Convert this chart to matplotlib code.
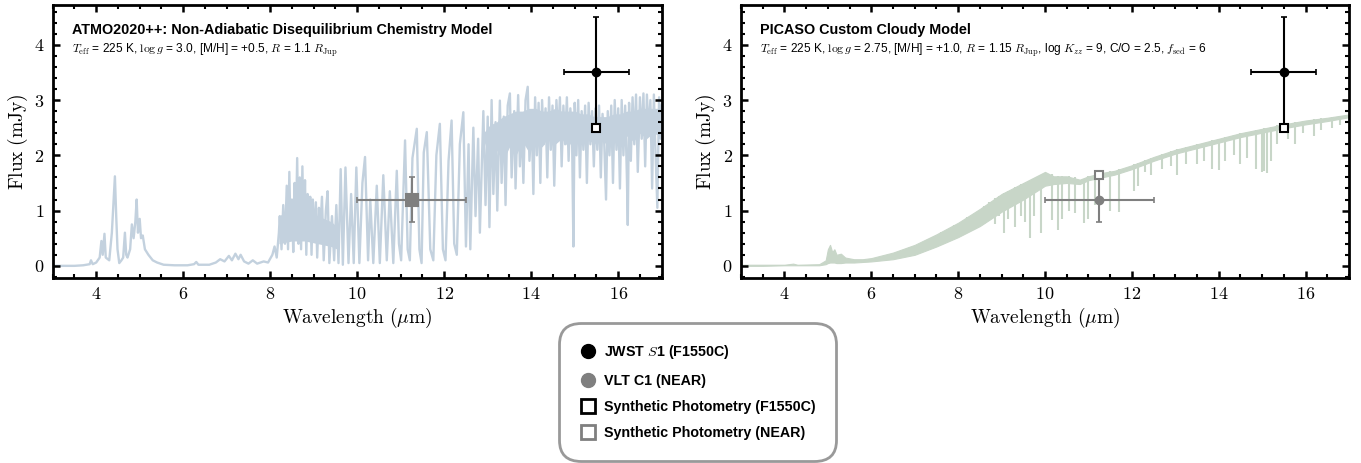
import numpy as np
import matplotlib
matplotlib.use("Agg")
import matplotlib.pyplot as plt
from matplotlib.lines import Line2D
from matplotlib.ticker import MultipleLocator, FuncFormatter

plt.rcParams['mathtext.fontset'] = 'cm'
plt.rcParams['font.family'] = ['Liberation Sans', 'DejaVu Sans']

# ---- ATMO2020++ spectrum (wavelength in micron, flux in mJy), peaks/troughs ----
atmo_wl = [
    3.0, 3.5, 3.7, 3.85, 3.88, 3.92, 4.0, 4.08, 4.12, 4.15, 4.19, 4.22, 4.3, 4.36, 4.4, 4.43,
    4.46, 4.49, 4.53, 4.58, 4.62, 4.66, 4.69, 4.72, 4.78, 4.82, 4.86, 4.9, 4.93, 4.96, 5.0,
    5.03, 5.07, 5.12, 5.2, 5.3, 5.4, 5.55, 5.8, 6.1, 6.25, 6.3, 6.35, 6.6, 6.75, 6.85, 6.95,
    7.05, 7.12, 7.2, 7.27, 7.32, 7.4, 7.5, 7.6, 7.7, 7.85, 7.95, 8.05, 8.1, 8.15, 8.2,
    8.22, 8.26, 8.3, 8.34, 8.38, 8.41, 8.44, 8.47, 8.5, 8.53, 8.56, 8.59, 8.62, 8.65, 8.68,
    8.71, 8.74, 8.77, 8.8, 8.83, 8.86, 8.89, 8.92, 8.95, 8.98, 9.01, 9.05, 9.08, 9.12, 9.15,
    9.19, 9.23, 9.28, 9.32, 9.36, 9.42, 9.47, 9.52, 9.57, 9.62, 9.67, 9.73, 9.8, 9.86, 9.92,
    9.98, 10.05, 10.12, 10.18, 10.25, 10.3, 10.37, 10.45, 10.52, 10.6, 10.68, 10.75, 10.83,
    10.91, 10.96, 11.01, 11.1, 11.16, 11.21, 11.27, 11.37, 11.43, 11.48, 11.53, 11.6, 11.68,
    11.75, 11.82, 11.9, 11.97, 12.03, 12.1, 12.17, 12.23, 12.29, 12.36, 12.44, 12.5, 12.56,
    12.6, 12.67, 12.72, 12.78,
    12.82, 12.9, 12.95, 13.0, 13.04, 13.09, 13.13, 13.18, 13.22, 13.28, 13.32, 13.37, 13.41,
    13.46, 13.51, 13.55, 13.61, 13.64, 13.7, 13.74, 13.78, 13.82, 13.87, 13.92, 13.96, 14.01,
    14.05, 14.09, 14.13, 14.17, 14.21, 14.25, 14.29, 14.33, 14.37, 14.41, 14.45, 14.49, 14.53,
    14.58, 14.62, 14.66, 14.7, 14.74, 14.78, 14.82, 14.86, 14.9, 14.94, 14.97, 15.0, 15.04,
    15.08, 15.12, 15.16, 15.2, 15.24, 15.28, 15.32, 15.36, 15.4, 15.44, 15.48, 15.52, 15.56,
    15.6, 15.64, 15.68, 15.72, 15.76, 15.8, 15.84, 15.88, 15.92, 15.96, 16.0, 16.04, 16.08,
    16.12, 16.16, 16.2, 16.22, 16.25, 16.29, 16.33, 16.37, 16.41, 16.45, 16.5, 16.54, 16.58,
    16.62, 16.66, 16.7, 16.74, 16.78, 16.82, 16.86, 16.9, 16.94, 16.98, 17.0,
]
atmo_flux = [
    0.0, 0.0, 0.01, 0.03, 0.1, 0.03, 0.06, 0.15, 0.45, 0.2, 0.58, 0.15, 0.1, 0.6, 1.2, 1.62,
    0.9, 0.3, 0.05, 0.1, 0.15, 0.6, 0.2, 0.15, 0.3, 0.75, 0.5, 0.8, 1.2, 0.6, 0.85,
    0.5, 0.55, 0.3, 0.2, 0.1, 0.06, 0.02, 0.01, 0.01, 0.03, 0.07, 0.02, 0.02, 0.06, 0.12, 0.08,
    0.18, 0.1, 0.22, 0.12, 0.2, 0.08, 0.04, 0.1, 0.04, 0.08, 0.06, 0.2, 0.35, 0.15, 0.6,
    0.9, 0.3, 1.1, 0.4, 1.45, 0.3, 1.7, 0.5, 1.2, 0.25, 1.5, 0.6, 1.95, 0.4, 1.6,
    0.3, 1.8, 0.5, 1.55, 0.2, 1.3, 0.6, 1.25, 0.2, 1.2, 0.5, 1.15, 0.15, 1.05, 0.6,
    1.25, 0.1, 1.0, 1.35, 0.05, 0.9, 0.1, 1.1, 0.05, 1.75, 0.02, 1.78, 0.05, 1.3, 0.05,
    1.78, 0.05, 1.5, 1.97, 0.1, 1.2, 0.05, 1.45, 0.05, 1.64, 0.1, 1.35, 0.05,
    1.72, 0.4, 0.1, 2.27, 0.3, 0.1, 1.95, 2.48, 0.3, 0.05, 2.05, 2.42, 0.3,
    0.1, 2.0, 2.57, 0.3, 0.1, 1.9, 2.63, 0.4, 0.2, 2.2, 2.78, 0.35, 2.2,
    0.3, 2.5, 0.9, 2.3,
    0.6, 2.8, 1.1, 2.7, 0.7, 3.0, 1.3, 2.6, 1.0, 2.99, 1.5, 2.7, 1.1,
    2.9, 3.12, 1.6, 2.8, 1.4, 3.09, 1.8, 2.6, 1.5, 3.0, 3.24, 1.9, 2.7,
    1.3, 3.05, 2.0, 2.95, 1.5, 3.0, 2.2, 2.85, 1.6, 3.05, 2.1, 2.9, 1.45,
    3.0, 2.3, 3.05, 1.8, 2.9, 2.2, 3.05, 1.9, 2.85, 2.3, 0.35, 2.95, 2.0,
    3.0, 1.6, 2.8, 2.1, 2.9, 1.5, 2.95, 2.2, 2.8, 1.8, 2.85, 2.1, 2.9,
    1.6, 2.75, 2.2, 1.2, 2.8, 2.0, 2.9, 1.5, 3.0, 2.1, 2.85, 1.4, 3.0,
    2.0, 2.9, 1.6, 0.74, 2.95, 1.9, 3.05, 2.2, 3.1, 1.7, 3.05, 2.3, 3.12,
    1.8, 3.1, 2.4, 3.0, 1.4, 3.1, 2.0, 1.05, 3.05, 2.3, 2.9,
]

# densely blended parts of the ATMO forest (lower / upper edge of the solid band)
atmo_band1_wl = [8.2, 8.5, 8.8, 9.1, 9.4, 9.55]
atmo_band1_low = [0.4, 0.45, 0.45, 0.4, 0.35, 0.3]
atmo_band1_high = [0.9, 1.05, 1.0, 0.9, 0.8, 0.7]
atmo_band2_wl = [12.9, 13.05, 13.2, 13.35, 13.5, 13.65, 13.8, 13.95, 14.1, 14.25, 14.4, 14.55,
                 14.7, 14.85, 15.0, 15.15, 15.3, 15.45, 15.6, 15.75, 15.9, 16.05, 16.2, 16.35,
                 16.5, 16.65, 16.8, 17.0]
atmo_band2_low = [2.3, 1.9, 2.1, 1.9, 2.15, 2.0, 2.25, 2.05, 2.3, 2.15, 2.35, 2.2, 2.3, 2.15,
                  2.35, 2.25, 2.3, 2.2, 2.35, 2.15, 2.3, 2.2, 2.35, 2.25, 2.4, 2.3, 2.4, 2.35]
atmo_band2_high = [2.4, 2.55, 2.6, 2.7, 2.75, 2.8, 2.8, 2.85, 2.85, 2.8, 2.8, 2.85, 2.8, 2.8,
                   2.8, 2.75, 2.75, 2.7, 2.7, 2.7, 2.75, 2.75, 2.8, 2.8, 2.85, 2.85, 2.85, 2.85]

# ---- PICASO cloudy spectrum: upper and lower edge of the dense band ----
picaso_wl = [3.0, 3.5, 4.0, 4.2, 4.3, 4.8, 4.95, 5.0, 5.05, 5.1, 5.15, 5.2, 5.3, 5.4, 5.6,
             5.8, 6.0, 6.5, 7.0, 7.5, 8.0, 8.5, 9.0, 9.5, 9.8, 10.0, 10.2, 10.5, 10.8, 11.0,
             11.3, 11.6, 12.0, 12.5, 13.0, 13.5, 14.0, 14.5, 15.0, 15.5, 16.0, 16.5, 17.0]
picaso_top = [0.02, 0.02, 0.02, 0.04, 0.02, 0.03, 0.1, 0.3, 0.38, 0.25, 0.3, 0.2, 0.22, 0.15, 0.12,
              0.12, 0.14, 0.24, 0.38, 0.57, 0.78, 1.03, 1.3, 1.5, 1.62, 1.7, 1.62, 1.62, 1.56, 1.62,
              1.68, 1.72, 1.82, 1.97, 2.1, 2.2, 2.3, 2.4, 2.48, 2.56, 2.63, 2.68, 2.74]
picaso_low = [0.0, 0.0, 0.01, 0.01, 0.01, 0.01, 0.03, 0.05, 0.06, 0.06, 0.06, 0.05, 0.05, 0.06, 0.06,
              0.07, 0.08, 0.12, 0.2, 0.35, 0.52, 0.72, 0.98, 1.2, 1.35, 1.45, 1.48, 1.5, 1.48, 1.55,
              1.6, 1.65, 1.75, 1.9, 2.03, 2.13, 2.23, 2.33, 2.41, 2.49, 2.56, 2.62, 2.69]

# individual absorption lines: wavelength, line floor, continuum on top
line_wl = [6.9, 7.3, 7.6, 7.9, 8.2, 8.45, 8.6, 8.7, 8.85, 8.95, 9.05, 9.15, 9.3, 9.45, 9.55,
           9.65, 9.75, 9.9, 10.15, 10.3, 10.4, 10.55, 10.7, 10.9, 11.0, 11.15, 11.5, 11.7,
           12.05, 12.15, 12.3, 12.45, 12.7, 12.9, 13.05, 13.25, 13.5, 13.65, 13.85, 14.0,
           14.15, 14.35, 14.5, 14.65, 14.85, 15.0, 15.05, 15.12, 15.2, 15.35, 15.6, 15.75,
           15.95, 16.2, 16.35, 16.6, 16.8]
line_low = [0.2, 0.33, 0.45, 0.55, 0.68, 0.8, 0.75, 0.85, 0.75, 0.9, 0.6, 0.85, 0.7, 0.9, 0.8,
            0.5, 0.9, 0.6, 0.83, 0.65, 0.85, 1.0, 0.95, 0.78, 0.85, 1.1, 1.0, 0.98,
            1.35, 1.45, 1.7, 1.65, 1.75, 1.8, 1.65, 1.85, 1.85, 1.9, 1.75, 1.73,
            1.9, 2.0, 1.85, 1.95, 1.75, 1.7, 1.72, 1.68, 1.9, 2.2, 2.3, 2.2,
            2.4, 2.35, 2.45, 2.5, 2.55]
line_top = [0.34, 0.48, 0.62, 0.74, 0.88, 1.0, 1.08, 1.15, 1.22, 1.26, 1.32, 1.36, 1.42, 1.48, 1.5,
            1.54, 1.58, 1.64, 1.66, 1.62, 1.62, 1.62, 1.6, 1.57, 1.62, 1.65, 1.71, 1.76,
            1.84, 1.87, 1.92, 1.96, 2.02, 2.07, 2.11, 2.15, 2.2, 2.23, 2.27, 2.3,
            2.33, 2.37, 2.4, 2.43, 2.46, 2.48, 2.49, 2.5, 2.51, 2.54, 2.58, 2.6,
            2.62, 2.65, 2.67, 2.69, 2.71]

# ---- photometry ----
jwst_wl, jwst_flux = 15.5, 3.5
jwst_xerr, jwst_yerr = 0.75, 1.0
vlt_wl, vlt_flux = 11.25, 1.2
vlt_xerr, vlt_yerr = 1.25, 0.4
synth_f1550c = [2.5, 2.5]      # ATMO, PICASO
synth_near = [1.2, 1.65]       # ATMO, PICASO

titles = ['ATMO2020++: Non-Adiabatic Disequilibrium Chemistry Model',
          'PICASO Custom Cloudy Model']
subtitles = [r'$T_{\rm eff}$ = 225 K, $\log g$ = 3.0, [M/H] = +0.5, $R$ = 1.1 $R_{\rm Jup}$',
             r'$T_{\rm eff}$ = 225 K, $\log g$ = 2.75, [M/H] = +1.0, $R$ = 1.15 $R_{\rm Jup}$, '
             r'log $K_{zz}$ = 9, C/O = 2.5, $f_{\rm sed}$ = 6']

atmo_color = '#c3d1de'
picaso_color = '#c8d6c8'
gray = '#7f7f7f'

W, H = 1361, 463
fig = plt.figure(figsize=(W / 100, H / 100), dpi=100)
ax1 = fig.add_axes([52.7 / W, 185 / H, 609 / W, 273 / H])
ax2 = fig.add_axes([741 / W, 185 / H, 608 / W, 273 / H])

ax1.fill_between(atmo_band1_wl, atmo_band1_low, atmo_band1_high, color=atmo_color, lw=0, zorder=1)
ax1.fill_between(atmo_band2_wl, atmo_band2_low, atmo_band2_high, color=atmo_color, lw=0, zorder=1)
ax1.plot(atmo_wl, atmo_flux, color=atmo_color, lw=1.7, zorder=1)

ax2.fill_between(picaso_wl, picaso_low, picaso_top, color=picaso_color, lw=0.8,
                 edgecolor=picaso_color, zorder=1)
ax2.vlines(line_wl, line_low, line_top, color=picaso_color, lw=1.5, zorder=1)

for i, ax in enumerate([ax1, ax2]):
    # VLT C1 (NEAR)
    ax.errorbar(vlt_wl, vlt_flux, xerr=vlt_xerr, yerr=vlt_yerr, fmt='o', color=gray,
                ms=6, lw=1.5, capsize=2.5, capthick=1.2, zorder=3)
    ax.plot(vlt_wl, synth_near[i], 's', mfc='white' if i else gray, mec=gray,
            ms=6 if i else 8, mew=1.5, zorder=4)
    # JWST S1 (F1550C)
    ax.errorbar(jwst_wl, jwst_flux, xerr=jwst_xerr, yerr=jwst_yerr, fmt='o', color='black',
                ms=6, lw=1.5, capsize=2.5, capthick=1.2, zorder=5)
    ax.plot(jwst_wl, synth_f1550c[i], 's', mfc='white', mec='black', ms=6, mew=1.5, zorder=6)

    ax.set_xlim(3, 17)
    ax.set_ylim(-0.22, 4.72)
    ax.xaxis.set_major_locator(MultipleLocator(2))
    ax.xaxis.set_minor_locator(MultipleLocator(0.5))
    ax.yaxis.set_major_locator(MultipleLocator(1))
    ax.yaxis.set_minor_locator(MultipleLocator(0.2))
    fmt = FuncFormatter(lambda v, p: f'${v:g}$')
    ax.xaxis.set_major_formatter(fmt)
    ax.yaxis.set_major_formatter(fmt)
    ax.tick_params(which='both', direction='in', top=True, right=True, labelsize=13)
    ax.tick_params(which='major', length=5, width=1.8, pad=6)
    ax.tick_params(which='minor', length=3, width=1.5)
    for sp in ax.spines.values():
        sp.set_linewidth(2.0)

    ax.set_xlabel(r'$\mathrm{Wavelength}\ (\mu\mathrm{m})$', fontsize=14, labelpad=2)
    ax.set_ylabel(r'$\mathrm{Flux}\ (\mathrm{mJy})$', fontsize=14, labelpad=3)

    ax.text(0.032, 0.91, titles[i], transform=ax.transAxes, fontsize=10.4,
            fontweight='bold', va='center', ha='left')
    ax.text(0.032, 0.835, subtitles[i], transform=ax.transAxes, fontsize=8.6,
            va='center', ha='left')

handles = [
    Line2D([], [], ls='none', marker='o', color='black', ms=10),
    Line2D([], [], ls='none', marker='o', color=gray, ms=10),
    Line2D([], [], ls='none', marker='s', mfc='white', mec='black', mew=2, ms=10),
    Line2D([], [], ls='none', marker='s', mfc='white', mec=gray, mew=2, ms=10),
]
labels = [r'JWST $\mathit{S}$1 (F1550C)', 'VLT C1 (NEAR)',
          'Synthetic Photometry (F1550C)', 'Synthetic Photometry (NEAR)']
leg = fig.legend(handles, labels, loc='upper center', bbox_to_anchor=(0.5125, 0.303),
                 prop={'weight': 'bold', 'size': 10.3}, frameon=True, fancybox=True,
                 edgecolor='#999999', framealpha=1, labelspacing=0.86, borderpad=1.45,
                 handletextpad=0.55, handlelength=1.1, borderaxespad=0)
leg.get_frame().set_linewidth(2)
leg.get_frame().set_boxstyle('round,pad=0,rounding_size=1.5')

fig.savefig('out.png', dpi=100)
